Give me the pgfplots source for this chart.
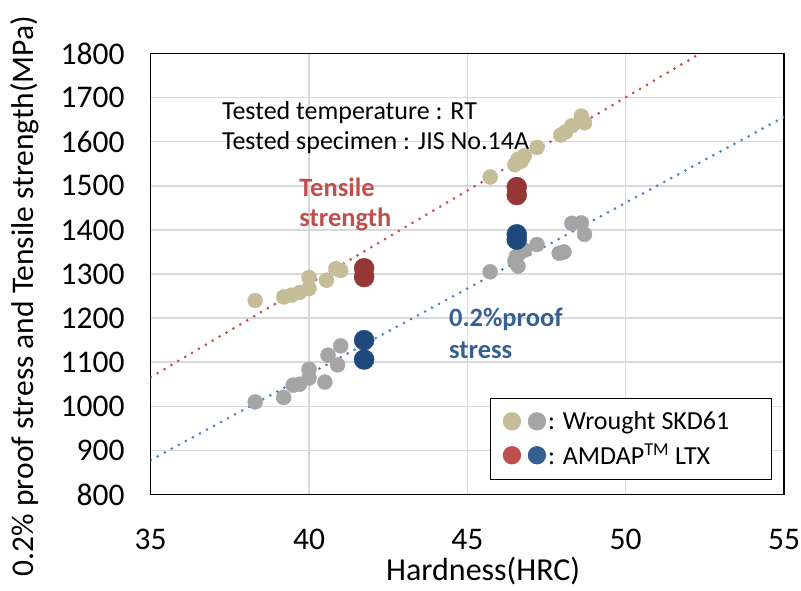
\documentclass[border=0pt]{standalone}
\usepackage{fontspec}
\setmainfont{Carlito}
\usepackage{pgfplots}
\pgfplotsset{compat=1.18}
\definecolor{tanc}{HTML}{C4BD97}
\definecolor{grc}{HTML}{A5A5A5}
\definecolor{dred}{HTML}{953735}
\definecolor{dblue}{HTML}{1F497D}
\definecolor{lred}{HTML}{C0504D}
\definecolor{lblue}{HTML}{4F81BD}
\definecolor{tblue}{HTML}{376092}
\definecolor{gridc}{HTML}{D9D9D9}
\begin{document}
\begin{tikzpicture}
\begin{axis}[
  scale only axis, width=633.3pt, height=441pt,
  xmin=35, xmax=55, ymin=800, ymax=1800,
  xtick={35,40,45,50,55}, ytick={800,900,...,1800},
  grid=major, major grid style={gridc, line width=1.5pt},
  axis line style={black, line width=1.3pt},
  major tick length=0pt,
  /pgf/number format/assume math mode=true,
  /pgf/number format/1000 sep={},
  ticklabel style={font=\fontsize{31.5}{31.5}\selectfont, inner sep=0pt},
  yticklabel style={anchor=east, xshift=-26pt},
  xticklabel style={anchor=center, yshift=-45pt},
  xlabel={Hardness(HRC)},
  xlabel style={font=\fontsize{32}{32}\selectfont, at={(axis description cs:0.525,0)}, anchor=center, yshift=-77pt},
  ylabel={0.2\% proof stress and Tensile strength(MPa)},
  ylabel style={font=\fontsize{31.5}{31.5}\selectfont, at={(axis description cs:-0.1985,0.45)}, anchor=center},
  legend style={draw=black, line width=1.3pt, at={(0.536,0.219)}, anchor=north west,
    font=\fontsize{26}{26}\selectfont, inner xsep=12pt, inner ysep=11pt, row sep=9pt},
  legend cell align=left,
  clip=true,
]
% Wrought SKD61 tensile strength
\addplot[tanc, only marks, mark=*, mark size=7.5pt, mark options={draw=none, fill=tanc}, forget plot] coordinates {
 (38.3,1240) (39.2,1248) (39.45,1252) (39.7,1258) (40.0,1267) (40.0,1292) (40.55,1286) (40.85,1312) (41.0,1308)
 (45.72,1520) (46.5,1548) (46.6,1560) (46.7,1556) (46.8,1568) (47.2,1587) (47.95,1615) (48.1,1622)
 (48.3,1636) (48.6,1658) (48.7,1643)
};
% Wrought SKD61 proof stress
\addplot[grc, only marks, mark=*, mark size=7.5pt, mark options={draw=none, fill=grc}, forget plot] coordinates {
 (38.3,1010) (39.2,1020) (39.5,1048) (39.7,1050) (40.0,1064) (40.0,1084) (40.5,1055) (40.6,1116) (40.9,1094) (41.0,1137)
 (45.72,1305) (46.5,1330) (46.6,1318) (46.55,1340) (46.8,1354) (47.2,1367) (47.9,1347) (48.05,1350)
 (48.3,1415) (48.6,1416) (48.7,1390)
};
% AMDAP tensile
\addplot[dred, only marks, mark=*, mark size=10pt, mark options={draw=none, fill=dred}, forget plot] coordinates {
 (41.74,1313) (41.74,1293) (46.56,1497) (46.56,1479)
};
% AMDAP proof
\addplot[dblue, only marks, mark=*, mark size=10pt, mark options={draw=none, fill=dblue}, forget plot] coordinates {
 (41.74,1150) (41.74,1106) (46.56,1390) (46.56,1378)
};
% trend lines
\addplot[lred, line width=3pt, line cap=round, dash pattern=on 0pt off 8pt, forget plot] coordinates {(35,1066) (52.35,1800)};
\addplot[lblue, line width=3pt, line cap=round, dash pattern=on 0pt off 8pt, forget plot] coordinates {(35,878) (55,1656)};
% legend
\addlegendimage{legend image code/.code={\fill[tanc] (0pt,0pt) circle (8.5pt); \fill[grc] (25pt,0pt) circle (8.5pt);}}
\addlegendentry{: Wrought SKD61\kern28pt}
\addlegendimage{legend image code/.code={\fill[lred] (0pt,0pt) circle (8.5pt); \fill[tblue] (25pt,0pt) circle (8.5pt);}}
\addlegendentry{: AMDAP\textsuperscript{TM} LTX}
% annotations
\node[anchor=west, font=\fontsize{26}{26}\selectfont, inner sep=0pt] at (axis cs:37.25,1665) {Tested temperature : RT};
\node[anchor=west, font=\fontsize{26}{26}\selectfont, inner sep=0pt] at (axis cs:37.25,1599) {Tested specimen : JIS No.14A};
\node[anchor=west, font=\bfseries\fontsize{26.5}{26.5}\selectfont, text=lred, inner sep=0pt] at (axis cs:39.69,1497) {Tensile};
\node[anchor=west, font=\bfseries\fontsize{26.5}{26.5}\selectfont, text=lred, inner sep=0pt] at (axis cs:39.69,1424) {strength};
\node[anchor=west, font=\bfseries\fontsize{26.5}{26.5}\selectfont, text=tblue, inner sep=0pt] at (axis cs:44.42,1198) {0.2\%proof};
\node[anchor=west, font=\bfseries\fontsize{26.5}{26.5}\selectfont, text=tblue, inner sep=0pt] at (axis cs:44.42,1128) {stress};
\end{axis}
\pgfresetboundingbox
\path[use as bounding box] (-150.7pt,-95.5pt) rectangle (650.3pt,494.5pt);
\end{tikzpicture}
\end{document}
